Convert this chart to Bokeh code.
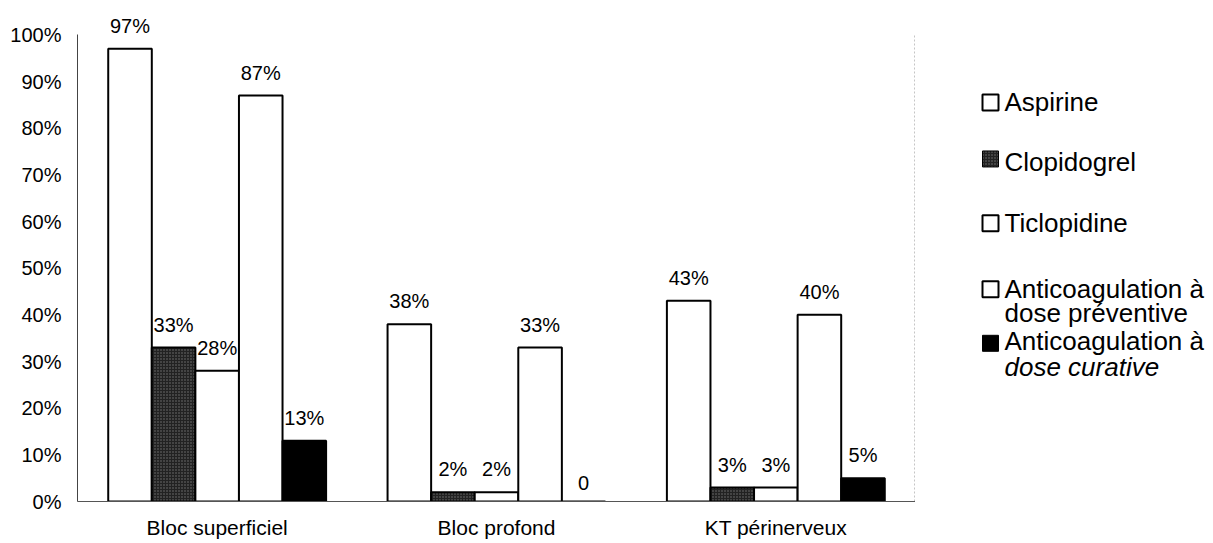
from bokeh.plotting import figure
from bokeh.layouts import row
from bokeh.models import FactorRange, Range1d, ColumnDataSource, PrintfTickFormatter, FixedTicker
from bokeh.transform import dodge
from bokeh.core.properties import value
from bokeh.embed import file_html
from bokeh.resources import INLINE

categories = ["Bloc superficiel", "Bloc profond", "KT périnerveux"]
series_names = ["Aspirine", "Clopidogrel", "Ticlopidine",
                "Anticoagulation à dose préventive", "Anticoagulation à dose curative"]
aspirine = [97, 38, 43]
clopidogrel = [33, 2, 3]
ticlopidine = [28, 2, 3]
anticoag_preventive = [87, 33, 40]
anticoag_curative = [13, 0, 5]
labels_aspirine = ["97%", "38%", "43%"]
labels_clopidogrel = ["33%", "2%", "3%"]
labels_ticlopidine = ["28%", "2%", "3%"]
labels_preventive = ["87%", "33%", "40%"]
labels_curative = ["13%", "0", "5%"]
y_ticks = [0, 10, 20, 30, 40, 50, 60, 70, 80, 90, 100]

series = [aspirine, clopidogrel, ticlopidine, anticoag_preventive, anticoag_curative]
series_labels = [labels_aspirine, labels_clopidogrel, labels_ticlopidine,
                 labels_preventive, labels_curative]
HATCH = dict(hatch_pattern="dot", hatch_color="#767676", hatch_scale=3, hatch_weight=1)
styles = [
    dict(fill_color="white"),
    dict(fill_color="#222222", **HATCH),
    dict(fill_color="white"),
    dict(fill_color="white"),
    dict(fill_color="black"),
]

FONT = "Liberation Sans"
BAR_W = 0.156
H = 543
TOP, BOTTOM = 11, 42

yr = Range1d(0, 105)
p = figure(x_range=FactorRange(*categories), y_range=yr,
           width=915, height=H,
           min_border_left=77, min_border_right=0, min_border_top=TOP, min_border_bottom=BOTTOM,
           output_backend="svg", toolbar_location=None)
p.outline_line_color = None
p.xgrid.grid_line_color = None
p.ygrid.grid_line_color = None

for i, (vals, lbls, st) in enumerate(zip(series, series_labels, styles)):
    off = (i - 2) * BAR_W
    src = ColumnDataSource(dict(cat=categories, val=vals, lbl=lbls))
    p.vbar(x=dodge("cat", off, range=p.x_range), top="val", width=BAR_W, source=src,
           line_color="black", line_width=2, **st)
    p.text(x=dodge("cat", off, range=p.x_range), y="val", text="lbl", source=src,
           text_font=value(FONT), text_font_size="20px", text_color="black",
           text_align="center", text_baseline="bottom", y_offset=-12)

# dotted right border of the plot area
p.segment(x0=[len(categories)], y0=[y_ticks[0]], x1=[len(categories)], y1=[y_ticks[-1]],
          line_color="#8a8a8a", line_width=2, line_dash="2 2")

p.yaxis.bounds = (y_ticks[0], y_ticks[-1])
p.yaxis.ticker = FixedTicker(ticks=y_ticks)
p.yaxis.formatter = PrintfTickFormatter(format="%d%%")
p.yaxis.major_tick_line_color = None
p.yaxis.minor_tick_line_color = None
p.yaxis.axis_line_color = "#444444"
p.yaxis.major_label_text_font = FONT
p.yaxis.major_label_text_font_size = "20px"
p.yaxis.major_label_text_color = "black"
p.yaxis.major_label_standoff = 10

p.xaxis.major_tick_line_color = None
p.xaxis.minor_tick_line_color = None
p.xaxis.axis_line_color = "#555555"
p.xaxis.major_label_text_font = FONT
p.xaxis.major_label_text_font_size = "21px"
p.xaxis.major_label_text_color = "black"
p.xaxis.major_label_standoff = 8

# legend panel
lg = figure(x_range=(0, 290), y_range=yr, width=290, height=H,
            min_border_left=0, min_border_right=0, min_border_top=TOP, min_border_bottom=BOTTOM,
            output_backend="svg", toolbar_location=None)
lg.axis.visible = False
lg.grid.grid_line_color = None
lg.outline_line_color = None

legend_square_y = [85.5, 73.4, 59.6, 45.5, 33.9]
legend_text = [["Aspirine"], ["Clopidogrel"], ["Ticlopidine"],
               ["Anticoagulation à", "dose préventive"], ["Anticoagulation à", "dose curative"]]
legend_text_y = [[85.7], [72.75], [59.7], [45.5, 40.4], [34.3, 28.9]]
legend_styles = [["normal"], ["normal"], ["normal"], ["normal", "normal"], ["normal", "italic"]]

for i, st in enumerate(styles):
    lg.scatter(x=[75], y=[legend_square_y[i]], marker="square", size=16,
               line_color="black", line_width=2 if st["fill_color"] == "white" else 1, **st)
    for txt, yy, fs in zip(legend_text[i], legend_text_y[i], legend_styles[i]):
        lg.text(x=[89], y=[yy], text=[txt], text_font=value(FONT), text_font_size="26px",
                text_color="black", text_baseline="middle", text_align="left",
                text_font_style=fs)

layout = row(p, lg, spacing=0)
open("out.html", "w").write(file_html(layout, INLINE))
